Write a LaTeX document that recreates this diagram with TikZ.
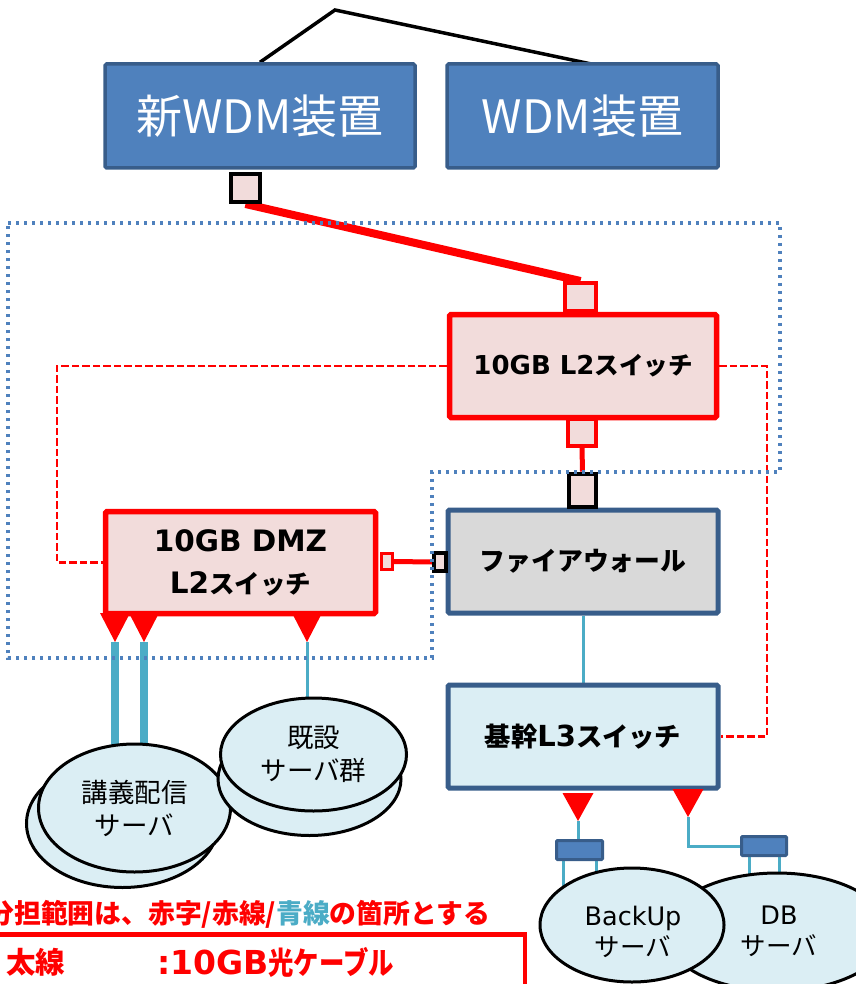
\documentclass[tikz,border=0pt]{standalone}
\usepackage{fontspec}
\setmainfont{Noto Sans CJK JP}
\newfontfamily\latinface{DejaVu Sans}
\newfontfamily\narrowjp{Noto Sans CJK JP}[FakeStretch=0.82]
\usetikzlibrary{shapes.geometric,calc}
\pgfdeclarelayer{wires}
\pgfdeclarelayer{overlay}
\pgfsetlayers{wires,main,overlay}

\definecolor{wdmfill}{HTML}{4F81BD}
\definecolor{navyedge}{HTML}{385D8A}
\definecolor{pinkfill}{HTML}{F2DCDB}
\definecolor{fwgray}{HTML}{D9D9D9}
\definecolor{paleblue}{HTML}{DBEEF4}
\definecolor{cablecol}{HTML}{4BACC6}
\definecolor{zoneblue}{HTML}{4F81BD}

% Latin runs set in a Verdana-like face at a given size
\newcommand\latrun[2]{{\fontsize{#1}{#1}\latinface #2}}
\newcommand\jprun[2]{{\fontsize{#1}{#1}\selectfont #2}}
\newcommand\narrowrun[2]{{\fontsize{#1}{#1}\narrowjp #2}}

\tikzset{
  wdmbox/.style={draw=navyedge, fill=wdmfill, line width=3.5pt, rounded corners=1.5pt,
    text=white, font=\fontsize{46}{50}\selectfont, inner sep=0pt},
  redbox/.style={draw=red, fill=pinkfill, line width=5.5pt, rounded corners=1.5pt,
    font=\bfseries\fontsize{26}{42}\selectfont, align=center, inner sep=0pt},
  navybox/.style={draw=navyedge, line width=5pt, rounded corners=1.5pt,
    font=\bfseries, inner sep=0pt},
  redport/.style={draw=red, fill=pinkfill, line width=4pt, inner sep=0pt},
  blackport/.style={draw=black, fill=pinkfill, line width=4pt, inner sep=0pt},
  fiber/.style={draw=red, line width=8pt},
  patchlink/.style={draw=red, line width=2.3pt, dash pattern=on 7.5pt off 3pt},
  zone/.style={draw=zoneblue, line width=3.4pt, dash pattern=on 3.4pt off 4.6pt},
  cable/.style={draw=cablecol, line width=3pt},
  thickcable/.style={draw=cablecol, line width=7.5pt},
  server/.style={ellipse, draw=black, line width=3pt, fill=paleblue, inner sep=0pt,
    font=\fontsize{26.5}{33}\selectfont, align=center},
  srvlabel/.style={align=center, inner sep=0pt, font=\fontsize{25.5}{31}\selectfont},
  nic/.style={draw=navyedge, fill=wdmfill, line width=3pt, rounded corners=1pt, inner sep=0pt},
  legendtext/.style={text=red, font=\bfseries, inner sep=0pt},
}

\begin{document}
\begin{tikzpicture}[x=1pt,y=-1pt]
\useasboundingbox (0,0) rectangle (855,984);

% ---- devices ----
\node[wdmbox, minimum width=310pt, minimum height=104pt] (newwdm) at (260,116) {新WDM装置};
\node[wdmbox, minimum width=271pt, minimum height=104pt] (wdm) at (582.5,116) {WDM装置};

\node[redbox, minimum width=267pt, minimum height=103pt] (l2) at (583,366)
  {\latrun{26}{10GB L2}\jprun{24.5}{スイッチ}};
\node[redbox, minimum width=270pt, minimum height=102pt] (dmz) at (240.5,562.5)
  {\latrun{29.5}{10GB DMZ}\\\latrun{29.5}{L2}\jprun{25.5}{スイッチ}};
\node[navybox, fill=fwgray, minimum width=270pt, minimum height=103pt] (fw) at (583,561.5)
  {\jprun{25.8}{ファイアウォール}};
\node[navybox, fill=paleblue, minimum width=270pt, minimum height=103pt] (l3) at (583,736.5)
  {\jprun{26.3}{基幹}\latrun{29}{L3}\jprun{26.3}{スイッチ}};

% ---- ports ----
\node[blackport, minimum width=29pt, minimum height=28pt] (wdmport) at (245.5,188) {};
\node[redport, minimum width=31pt, minimum height=28pt] (l2top) at (580.5,297) {};
\node[redport, minimum width=28pt, minimum height=27pt] (l2bot) at (582,432.5) {};
\node[blackport, minimum width=27pt, minimum height=33pt] (fwtop) at (582.5,490) {};
\node[redport, line width=3pt, minimum width=11pt, minimum height=16pt] (dmzport) at (387,561.5) {};
\node[blackport, line width=3.5pt, minimum width=12pt, minimum height=18pt] (fwleft) at (440,562) {};

% ---- downlink tips ----
\coordinate (t1) at (115,642);
\coordinate (t2) at (144,642);
\coordinate (t3) at (307,642);
\coordinate (t4) at (578,821);
\coordinate (t5) at (688,817);
\foreach \t in {t1,t2,t3}
  \fill[red] (\t) -- ++(-15,-29) -- ++(30,0) -- cycle;
\foreach \t in {t4,t5}
  \fill[red] (\t) -- ++(-15.5,-28) -- ++(31,0) -- cycle;

% ---- servers ----
\node[server, minimum width=192pt, minimum height=128pt] (lecback) at (122.5,823.5) {};
\node[server, minimum width=192pt, minimum height=128pt] (lec) at (134.5,808) {講義配信\\サーバ};
\node[server, minimum width=183pt, minimum height=113pt] (oldback) at (309.5,779) {};
\node[server, minimum width=186pt, minimum height=113pt] (old) at (313.5,754.5) {既設\\サーバ群};
\node[server, minimum width=224pt, minimum height=118pt] (db) at (777,932) {};
\node[server, minimum width=184pt, minimum height=114pt] (backup) at (632,925) {};
\node[srvlabel] (backuptxt) at (633,932) {\latrun{25.5}{BackUp}\\サーバ};
\node[srvlabel] (dbtxt) at (779,931) {\latrun{25.5}{DB}\\サーバ};

\node[nic, minimum width=46pt, minimum height=19pt] (nic1) at (579.5,850) {};
\node[nic, minimum width=45pt, minimum height=19pt] (nic2) at (764,846) {};

% ---- links behind the devices ----
\begin{pgfonlayer}{wires}
  % uplink between the WDM units
  \coordinate (apex) at (335,10);
  \coordinate (wdmtap) at (596,65);
  \draw[line width=3.5pt] (newwdm.north) -- (apex) -- (wdmtap);
  % 10GB fibre
  \draw[fiber] (wdmport.south) -- (l2top.north);
  \draw[red, line width=5pt] (l2bot.south) -- (fwtop.north);
  \draw[red, line width=5pt] (dmzport.east) -- (fwleft.west);
  % management links
  \coordinate (lc) at (57,562.5);
  \coordinate (rc) at (767,736.5);
  \draw[patchlink] (l2.west) -| (lc) -- (dmz.west);
  \draw[patchlink] (l2.east) -| (rc) -- (l3.east);
  % copper cables
  \draw[thickcable] (t1) -- (t1 |- lec.center);
  \draw[thickcable] (t2) -- (t2 |- lec.center);
  \draw[cable] (t3) -- (t3 |- old.center);
  \draw[cable] (fw.south) -- (l3.north);
  \draw[cable] (t4) -- (t4 |- nic1.north);
  \draw[cable] (t5) |- (nic2.west);
  \draw[cable] ([xshift=8pt]nic1.south west) -- ++(0,45);
  \draw[cable] ([xshift=-8pt]nic1.south east) -- ++(0,45);
  \draw[cable] ([xshift=9pt]nic2.south west) -- ++(0,45);
  \draw[cable] ([xshift=-9pt]nic2.south east) -- ++(0,45);
\end{pgfonlayer}

% ---- DMZ zone outline ----
\begin{pgfonlayer}{overlay}
  \draw[zone] (8,223) -- (780,223) -- (780,472) -- (432,472) -- (432,658) -- (8,658) -- cycle;
\end{pgfonlayer}

% ---- legend ----
\node[anchor=east, text=red, font=\bfseries\fontsize{26.8}{30}\selectfont, inner sep=0pt]
  (scope) at (490,914) {分担範囲は、赤字/赤線/\textcolor{cablecol}{青線}の箇所とする};
\node[draw=red, line width=4.5pt, anchor=north east, minimum width=560pt, minimum height=80pt]
  (legend) at (527,932) {};
\node[legendtext, anchor=west] (thick) at (6,962) {\jprun{29.5}{太線}};
\node[legendtext, anchor=west] (thickdesc) at (157,962)
  {\latrun{33}{:10GB}\narrowrun{31}{光ケーブル}};
\end{tikzpicture}
\end{document}
